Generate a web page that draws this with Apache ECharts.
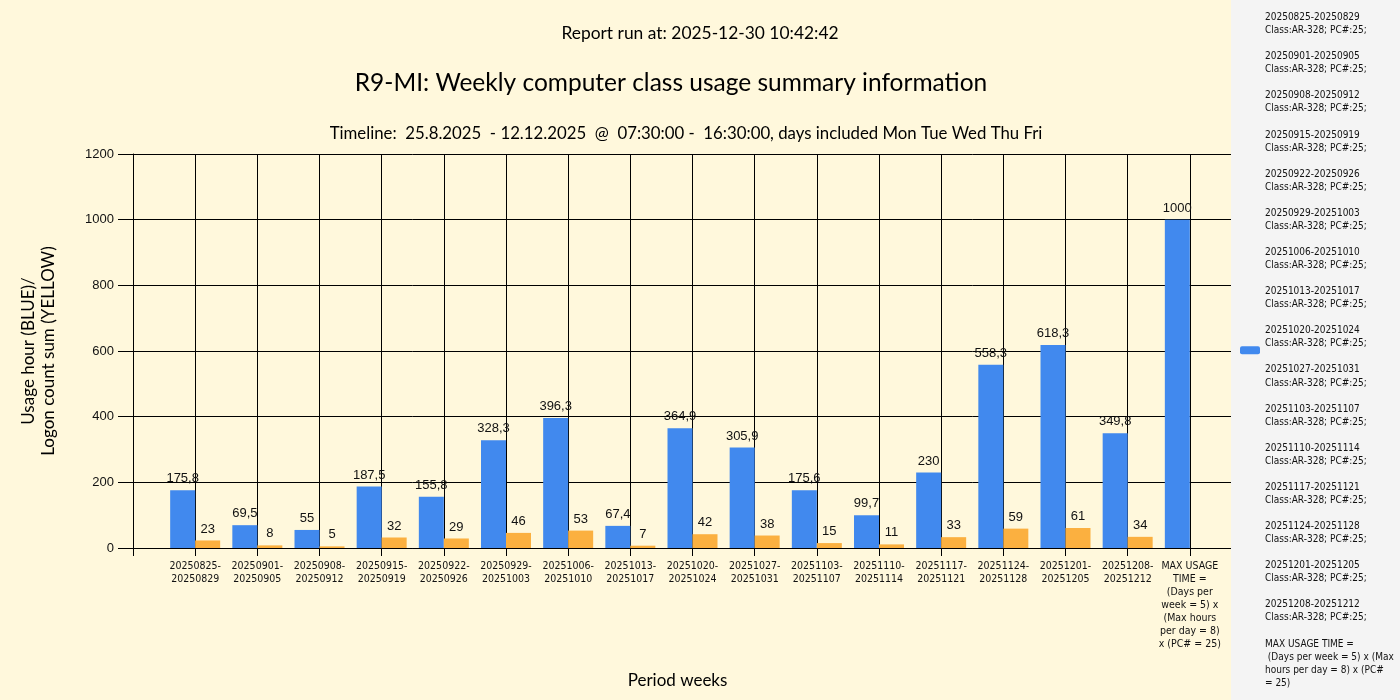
<!DOCTYPE html>
<html>
<head>
<meta charset="utf-8">
<title>R9-MI weekly usage</title>
<script src="https://cdn.jsdelivr.net/npm/echarts@6/dist/echarts.min.js"></script>
<style>
  html, body { margin: 0; padding: 0; background: #FFF8DC; }
  #chart { width: 1400px; height: 700px; }
</style>
</head>
<body>
<div id="chart"></div>
<script>
// period weeks (category per x position 1..16, 17 = max usage)
const weeks = [
  '20250825-20250829', '20250901-20250905', '20250908-20250912', '20250915-20250919',
  '20250922-20250926', '20250929-20251003', '20251006-20251010', '20251013-20251017',
  '20251020-20251024', '20251027-20251031', '20251103-20251107', '20251110-20251114',
  '20251117-20251121', '20251124-20251128', '20251201-20251205', '20251208-20251212'
];
const maxTickLabel = 'MAX USAGE\nTIME =\n(Days per\nweek = 5) x\n(Max hours\nper day = 8)\nx (PC# = 25)';
const maxLegendText = 'MAX USAGE TIME =\n (Days per week = 5) x (Max\nhours per day = 8) x (PC#\n= 25)';
const classInfo = 'Class:AR-328; PC#:25;';

// usage hours (blue), last value is the max usage time
const usageHours = [175.8, 69.5, 55, 187.5, 155.8, 328.3, 396.3, 67.4, 364.9, 305.9, 175.6, 99.7, 230, 558.3, 618.3, 349.8, 1000];
// logon count sum (yellow)
const logonCounts = [23, 8, 5, 32, 29, 46, 53, 7, 42, 38, 15, 11, 33, 59, 61, 34];

// x tick labels, index = x value
const xTickLabels = [''].concat(weeks.map(w => w.replace('-', '-\n')), [maxTickLabel, '']);
const yTicks = { min: 0, max: 1200, interval: 200 };

const legendName = weeks.map(w => w + '\n' + classInfo).concat([maxLegendText]).join('\n\n');

const chart = echarts.init(document.getElementById('chart'));

const labelFont = 'Liberation Sans Narrow, Liberation Sans, sans-serif';

chart.setOption({
  backgroundColor: '#FFF8DC',
  animation: false,
  title: [
    { text: 'Report run at: 2025-12-30 10:42:42', left: 695, top: 20, textAlign: 'center',
      textStyle: { fontFamily: 'Lato', fontSize: 17.4, fontWeight: 'normal', color: '#000' } },
    { text: 'R9-MI: Weekly computer class usage summary information', left: 666, top: 66, textAlign: 'center',
      textStyle: { fontFamily: 'Lato', fontSize: 24.5, fontWeight: 'normal', color: '#000' } },
    { text: 'Timeline:  25.8.2025  - 12.12.2025  @  07:30:00 -  16:30:00, days included Mon Tue Wed Thu Fri',
      left: 681, top: 120, textAlign: 'center',
      textStyle: { fontFamily: 'Lato', fontSize: 16.8, fontWeight: 'normal', color: '#000' } }
  ],
  legend: {
    data: [legendName],
    left: 1240,
    top: 11,
    padding: 0,
    z: 200,
    itemWidth: 20,
    itemHeight: 8,
    selectedMode: false,
    textStyle: { fontFamily: 'DejaVu Sans Condensed', fontSize: 10, lineHeight: 13.05, color: '#111' }
  },
  // grey legend panel (also hides the grid beyond its right edge)
  graphic: [{
    type: 'rect', left: 1231, top: 0, z: 100,
    shape: { width: 169, height: 700 },
    style: { fill: '#F4F4F4' }
  }],
  grid: { left: 133, right: 148, top: 154, bottom: 152 },
  xAxis: {
    type: 'value',
    min: 0,
    max: xTickLabels.length - 1,
    interval: 1,
    name: 'Period weeks',
    nameLocation: 'middle',
    nameGap: 124,
    nameTextStyle: { fontFamily: 'Lato', fontSize: 17, color: '#000', padding: [0, 30, 0, 0] },
    axisLine: { show: true, lineStyle: { color: '#000', width: 1 } },
    axisTick: { show: true, length: 8, lineStyle: { color: '#000' } },
    splitLine: { show: true, lineStyle: { color: '#000', width: 1 } },
    axisLabel: {
      margin: 12,
      fontFamily: 'DejaVu Sans Condensed',
      fontSize: 10.5,
      lineHeight: 13,
      color: '#111',
      formatter: v => xTickLabels[v] || ''
    }
  },
  yAxis: {
    type: 'value',
    min: yTicks.min,
    max: yTicks.max,
    interval: yTicks.interval,
    name: 'Usage hour (BLUE)/\nLogon count sum (YELLOW)',
    nameLocation: 'middle',
    nameGap: 74,
    nameTextStyle: { fontFamily: 'Lato', fontSize: 17, lineHeight: 20, color: '#000' },
    axisLine: { show: true, lineStyle: { color: '#000', width: 1 } },
    axisTick: { show: true, length: 15, lineStyle: { color: '#000' } },
    splitLine: { show: true, lineStyle: { color: '#000', width: 1 } },
    axisLabel: {
      margin: 19, fontFamily: 'Liberation Sans', fontSize: 13, color: '#111',
      formatter: v => String(v)
    }
  },
  series: [
    {
      name: legendName,
      type: 'bar',
      barWidth: 25,
      barGap: '0%',
      itemStyle: { color: '#4189EE' },
      label: {
        show: true, position: 'top', distance: 5,
        fontFamily: labelFont, fontSize: 13, color: '#111',
        formatter: p => String(p.value[1]).replace('.', ',')
      },
      data: usageHours.map((v, i) => [i + 1, v])
    },
    {
      name: 'Logon count sum',
      type: 'bar',
      barWidth: 25,
      barGap: '0%',
      itemStyle: { color: '#FBB040' },
      label: {
        show: true, position: 'top', distance: 5,
        fontFamily: labelFont, fontSize: 13, color: '#111',
        formatter: p => String(p.value[1])
      },
      data: logonCounts.map((v, i) => [i + 1, v])
    }
  ]
});

window.onresize = () => {
  chart.resize();
};
</script>
</body>
</html>
